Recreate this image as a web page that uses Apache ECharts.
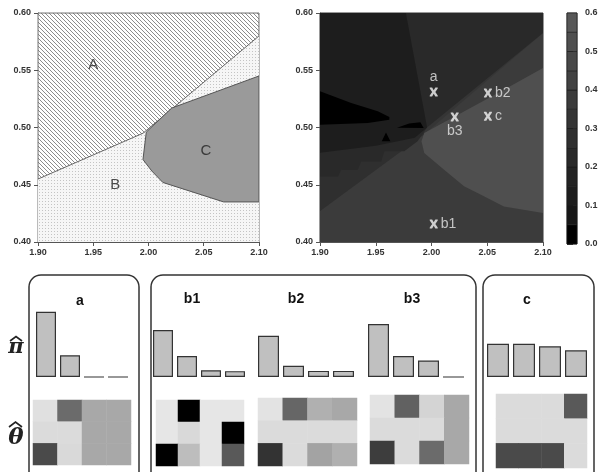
<!DOCTYPE html>
<html><head><meta charset="utf-8">
<script src="https://cdn.jsdelivr.net/npm/echarts@6/dist/echarts.min.js"></script>
<style>html,body{margin:0;padding:0;background:#fff}#c{width:602px;height:472px}</style>
</head><body><div id="c"></div>
<script>
// ---------- data ----------
const xTicks = [1.90, 1.95, 2.00, 2.05, 2.10];
const yTicks = [0.40, 0.45, 0.50, 0.55, 0.60];
const colorbarTicks = [0.0, 0.1, 0.2, 0.3, 0.4, 0.5, 0.6];
const colorbarLevels = [0, 0.05, 0.10, 0.15, 0.20, 0.25, 0.30, 0.35, 0.40, 0.45, 0.50, 0.55, 0.60];

// left panel regions
const regionB = [[1.90,0.40],[2.10,0.40],[2.10,0.60],[1.90,0.60]];
const regionA = [[1.90,0.60],[2.10,0.60],[2.10,0.580],[1.995,0.495],[1.90,0.455]];
const regionC = [[1.998,0.496],[2.021,0.517],[2.10,0.545],[2.10,0.435],[2.068,0.435],[2.013,0.452],[2.003,0.462],[1.995,0.472]];
const regionLabels = [['A',1.950,0.555],['B',1.970,0.450],['C',2.052,0.480]];

// right panel contour regions (value = level)
const contourBase = [[1.90,0.40],[2.10,0.40],[2.10,0.60],[1.90,0.60]];
const contourMid = [[1.90,0.427],[1.9935,0.494],[2.10,0.5825],[2.10,0.60],[1.90,0.60]];
const contourLeftBand = [[1.90,0.427],[1.9935,0.494],[1.996,0.60],[1.90,0.60]];
const contourStair = [[1.90,0.4573],[1.9161,0.4573],[1.919,0.4631],[1.9339,0.4631],[1.9369,0.4704],[1.9548,0.4704],[1.9577,0.4792],[1.9756,0.4792],[1.9875,0.4879],[1.996,0.50],[1.996,0.60],[1.90,0.60]];
const contourUpperRight = [[1.977,0.60],[2.10,0.60],[2.10,0.5825],[1.996,0.500]];
const contourUpperLeft = [[1.90,0.60],[1.977,0.60],[1.996,0.500],[1.985,0.491],[1.95,0.484],[1.90,0.478]];
const contourLight = [[1.9935,0.4952],[2.032,0.5155],[2.0649,0.533],[2.10,0.552],[2.10,0.4253],[2.0649,0.4311],[2.047,0.4399],[2.0292,0.4486],[2.0113,0.4631],[1.9935,0.4777],[1.991,0.488]];
const contourBlack1 = [[1.90,0.5316],[1.928,0.5214],[1.9518,0.5141],[1.9622,0.5092],[1.9622,0.5068],[1.9429,0.5039],[1.90,0.5025]];
const contourBlack2 = [[1.969,0.4998],[1.98,0.5035],[1.99,0.5045],[1.993,0.4995]];
const contourBlack3 = [[1.9592,0.4957],[1.9554,0.4879],[1.9631,0.4879]];
const contourPolys = [contourBase, contourMid, contourLeftBand, contourStair, contourUpperRight, contourUpperLeft, contourLight, contourBlack1, contourBlack2, contourBlack3];
const contourValues = [0.37, 0.32, 0.27, 0.22, 0.22, 0.12, 0.52, 0.02, 0.02, 0.02];

// marked points
const pointNames = ['a', 'b1', 'b2', 'b3', 'c'];
const pointX = [2.002, 2.002, 2.0506, 2.0208, 2.0506];
const pointY = [0.531, 0.4157, 0.5301, 0.5092, 0.5098];

// bar values (pi hat)
const piA  = [0.75, 0.25, 0, 0];
const piB1 = [0.54, 0.24, 0.077, 0.067];
const piB2 = [0.475, 0.13, 0.07, 0.07];
const piB3 = [0.61, 0.24, 0.19, 0];
const piC  = [0.383, 0.383, 0.353, 0.307];

// theta hat (rows top->bottom, 4 columns); 0 = white, 1 = black
const thetaA  = [[0.12,0.58,0.34,0.34],[0.14,0.14,0.34,0.34],[0.71,0.15,0.34,0.34]];
const thetaB1 = [[0.10,1.00,0.10,0.10],[0.10,0.15,0.10,1.00],[1.00,0.26,0.10,0.65]];
const thetaB2 = [[0.11,0.60,0.31,0.34],[0.14,0.14,0.14,0.14],[0.80,0.14,0.36,0.31]];
const thetaB3 = [[0.11,0.62,0.17,0.34],[0.14,0.14,0.14,0.34],[0.76,0.14,0.58,0.34]];
const thetaC  = [[0.14,0.14,0.14,0.65],[0.14,0.14,0.14,0.14],[0.71,0.71,0.71,0.14]];
const groupNames = ['a', 'b1', 'b2', 'b3', 'c'];

// ---------- styling / layout ----------
const bandColors = ['#000000','#171717','#1d1d1d','#232323','#292929','#2f2f2f','#353535','#3b3b3b','#424242','#484848','#4f4f4f','#585858'];
function levelColor(v){ let i = Math.floor(v/0.05); i = Math.max(0, Math.min(bandColors.length-1, i)); return bandColors[i]; }

function makePattern(kind){
  const c = document.createElement('canvas');
  const g = c.getContext('2d');
  if (kind === 'hatch') {
    c.width = c.height = 4;
    g.fillStyle = '#ffffff'; g.fillRect(0,0,4,4);
    g.strokeStyle = '#8c8c8c'; g.lineWidth = 1;
    g.beginPath();
    for (let k=-4;k<=4;k+=4){ g.moveTo(k,0); g.lineTo(k+4,4); }
    g.stroke();
  } else {
    c.width = c.height = 3;
    g.fillStyle = '#f6f6f6'; g.fillRect(0,0,3,3);
    g.fillStyle = '#c4c4c4'; g.fillRect(0,0,1,1);
  }
  return {image: c, repeat: 'repeat'};
}
const hatchFill = makePattern('hatch');
const dotFill = makePattern('dot');

const FONT = 'Liberation Sans, Arial, sans-serif';
const tickLabel = {fontSize: 9, fontWeight: 'bold', color: '#333', fontFamily: FONT};

function valueAxis(gi, min, max, interval, extra){
  return Object.assign({gridIndex: gi, type: 'value', min, max, interval,
    axisLine: {show: true, onZero: false, lineStyle: {color: '#555', width: 1}},
    axisTick: {show: true, length: 4, lineStyle: {color: '#555'}},
    axisLabel: Object.assign({formatter: v => v.toFixed(2), margin: 6}, tickLabel),
    splitLine: {show: false}}, extra || {});
}

const grids = [
  {left: 38, top: 13, width: 221, height: 229, show: true, borderColor: '#777', borderWidth: 1},
  {left: 320, top: 13, width: 223, height: 229, show: true, borderColor: '#333', borderWidth: 1},
  {left: 567, top: 13, width: 10, height: 231, show: true, borderColor: '#333', borderWidth: 1}
];
const xAxes = [
  valueAxis(0, 1.9, 2.1, 0.05),
  valueAxis(1, 1.9, 2.1, 0.05),
  {gridIndex: 2, type: 'value', min: 0, max: 1, show: false}
];
const yAxes = [
  valueAxis(0, 0.4, 0.6, 0.05, {axisLabel: Object.assign({formatter: v => v.toFixed(2), margin: 7}, tickLabel)}),
  valueAxis(1, 0.4, 0.6, 0.05, {axisLabel: Object.assign({formatter: v => v.toFixed(2), margin: 7}, tickLabel)}),
  {gridIndex: 2, type: 'value', min: 0, max: 0.6, interval: 0.1, position: 'right',
   axisLine: {show: false}, axisTick: {show: true, length: 6, lineStyle: {color: '#333'}},
   axisLabel: Object.assign({formatter: v => v.toFixed(1), margin: 8}, tickLabel), splitLine: {show: false}}
];

const series = [];
// left panel polygons
const leftPolys = [
  {pts: regionB, fill: dotFill, stroke: null},
  {pts: regionA, fill: hatchFill, stroke: '#666'},
  {pts: regionC, fill: '#9a9a9a', stroke: '#555'}
];
series.push({type: 'custom', xAxisIndex: 0, yAxisIndex: 0, silent: true, clip: true,
  data: leftPolys.map(p => p.pts[0]),
  renderItem: (params, api) => {
    const p = leftPolys[params.dataIndex];
    return {type: 'polygon', shape: {points: p.pts.map(pt => api.coord(pt))},
      style: {fill: p.fill, stroke: p.stroke || 'none', lineWidth: 1}};
  }});
series.push({type: 'scatter', xAxisIndex: 0, yAxisIndex: 0, silent: true, symbolSize: 0,
  data: regionLabels.map(r => ({value: [r[1], r[2]], label: {show: true, formatter: r[0], position: 'inside',
    fontSize: 15, color: '#222', fontFamily: FONT}}))});

// right panel contour
series.push({type: 'custom', xAxisIndex: 1, yAxisIndex: 1, silent: true, clip: true,
  data: contourPolys.map(p => p[0]),
  renderItem: (params, api) => {
    const pts = contourPolys[params.dataIndex];
    return {type: 'polygon', shape: {points: pts.map(pt => api.coord(pt))},
      style: {fill: levelColor(contourValues[params.dataIndex]), stroke: 'none'}};
  }});
const labelPos = {a: 'top', b1: 'right', b2: 'right', b3: 'bottom', c: 'right'};
series.push({type: 'scatter', xAxisIndex: 1, yAxisIndex: 1, silent: true,
  symbol: 'path://M0,0 L3,0 L5,3 L7,0 L10,0 L10,1 L7,5 L10,9 L10,10 L7,10 L5,7 L3,10 L0,10 L0,9 L3,5 L0,1 Z',
  symbolSize: [8, 9], itemStyle: {color: '#f4f4f4'},
  data: pointNames.map((n, i) => ({value: [pointX[i], pointY[i]], label: {show: true, formatter: n,
    position: labelPos[n], distance: 3, fontSize: 14, color: '#e6e6e6', fontFamily: FONT}}))});

// colorbar
series.push({type: 'custom', xAxisIndex: 2, yAxisIndex: 2, silent: true,
  data: colorbarLevels.slice(0, -1).map(v => [0, v]),
  renderItem: (params, api) => {
    const lo = colorbarLevels[params.dataIndex], hi = colorbarLevels[params.dataIndex + 1];
    const p0 = api.coord([0, hi]), p1 = api.coord([1, lo]);
    return {type: 'rect', shape: {x: p0[0], y: p0[1], width: p1[0]-p0[0], height: p1[1]-p0[1]},
      style: {fill: levelColor((lo+hi)/2), stroke: '#1a1a1a', lineWidth: 0.6}};
  }});

// bottom panels
const barGroups = [
  {vals: piA,  left: 34,  width: 96,  bw: 20},
  {vals: piB1, left: 151, width: 96,  bw: 20},
  {vals: piB2, left: 256, width: 100, bw: 21},
  {vals: piB3, left: 366, width: 100, bw: 21},
  {vals: piC,  left: 485, width: 104, bw: 22}
];
const heatGroups = [
  {vals: thetaA,  left: 33,  width: 98, top: 400, height: 65},
  {vals: thetaB1, left: 156, width: 88, top: 400, height: 66},
  {vals: thetaB2, left: 258, width: 99, top: 398, height: 68},
  {vals: thetaB3, left: 370, width: 99, top: 395, height: 69},
  {vals: thetaC,  left: 496, width: 91, top: 394, height: 74}
];
const cats = ['1','2','3','4'];
const rows = ['1','2','3'];
const heatSeriesIdx = [];
barGroups.forEach((g, k) => {
  const gi = grids.length;
  grids.push({left: g.left, top: 290, width: g.width, height: 87});
  xAxes.push({gridIndex: gi, type: 'category', data: cats, show: false});
  yAxes.push({gridIndex: gi, type: 'value', min: 0, max: 1, show: false});
  series.push({type: 'bar', xAxisIndex: gi, yAxisIndex: gi, silent: true, barWidth: g.bw,
    data: g.vals, itemStyle: {color: '#c0c0c0', borderColor: '#333', borderWidth: 1.2}});
});
heatGroups.forEach((g, k) => {
  const gi = grids.length;
  grids.push({left: g.left, top: g.top, width: g.width, height: g.height});
  xAxes.push({gridIndex: gi, type: 'category', data: cats, show: false});
  yAxes.push({gridIndex: gi, type: 'category', data: rows, inverse: true, show: false});
  const d = [];
  g.vals.forEach((row, r) => row.forEach((v, c) => d.push([c, r, v])));
  heatSeriesIdx.push(series.length);
  series.push({type: 'heatmap', xAxisIndex: gi, yAxisIndex: gi, silent: true, data: d});
});

const titlePos = [[80, 301], [192, 299], [296, 299], [412, 299], [527, 300]];
const graphics = [
  {type: 'rect', shape: {x: 29, y: 275, width: 110, height: 210, r: 12}, style: {fill: 'none', stroke: '#333', lineWidth: 1.5}},
  {type: 'rect', shape: {x: 151, y: 275, width: 325, height: 210, r: 12}, style: {fill: 'none', stroke: '#333', lineWidth: 1.5}},
  {type: 'rect', shape: {x: 483, y: 275, width: 111, height: 210, r: 12}, style: {fill: 'none', stroke: '#333', lineWidth: 1.5}},
  {type: 'text', x: 16, y: 348, style: {text: 'π', font: 'italic bold 21px "DejaVu Serif"', fill: '#222', align: 'center', verticalAlign: 'middle'}},
  {type: 'polyline', shape: {points: [[10, 341], [16, 336.5], [22, 341]]}, style: {stroke: '#222', lineWidth: 1.6, fill: 'none'}},
  {type: 'text', x: 16, y: 438, style: {text: 'θ', font: 'italic bold 23px "DejaVu Serif"', fill: '#222', align: 'center', verticalAlign: 'middle'}},
  {type: 'polyline', shape: {points: [[9, 427], [15.5, 422], [22, 427]]}, style: {stroke: '#222', lineWidth: 1.6, fill: 'none'}}
];
groupNames.forEach((n, i) => graphics.push({type: 'text', x: titlePos[i][0], y: titlePos[i][1],
  style: {text: n, font: 'bold 14px ' + FONT, fill: '#111', align: 'center', verticalAlign: 'middle'}}));

const chart = echarts.init(document.getElementById('c'), null, {renderer: 'canvas'});
chart.setOption({
  animation: false,
  backgroundColor: '#ffffff',
  grid: grids, xAxis: xAxes, yAxis: yAxes,
  visualMap: [{type: 'continuous', show: false, min: 0, max: 1, seriesIndex: heatSeriesIdx,
    inRange: {color: ['#ffffff', '#000000']}}],
  graphic: graphics,
  series: series
});
</script></body></html>
